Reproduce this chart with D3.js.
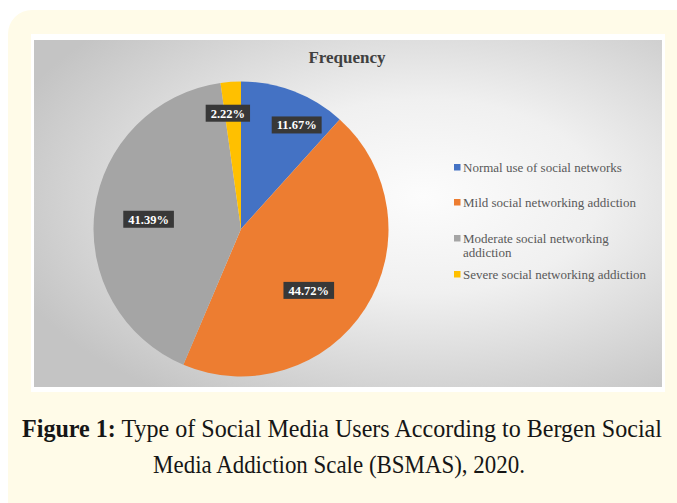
<!DOCTYPE html>
<html><head><meta charset="utf-8">
<script src="https://cdn.jsdelivr.net/npm/d3@7"></script>
<style>
html,body{margin:0;padding:0;background:#fff;}
svg{display:block;}
</style></head>
<body>
<svg id="c" width="677" height="503"></svg>
<script>
const categories = ["Normal use of social networks","Mild social networking addiction","Moderate social networking addiction","Severe social networking addiction"];
const values = [11.67, 44.72, 41.39, 2.22];
const labels = ["11.67%","44.72%","41.39%","2.22%"];
const colors = ["#4472c4","#ed7d31","#a5a5a5","#ffc000"];
const legendLines = [["Normal use of social networks"],["Mild social networking addiction"],["Moderate social networking","addiction"],["Severe social networking addiction"]];
const chartTitle = "Frequency";
const captionBold = "Figure 1:";
const captionRest1 = " Type of Social Media Users According to Bergen Social";
const captionLine2 = "Media Addiction Scale (BSMAS), 2020.";

// label placement (fraction of radius, fraction of slice angle)
const labelRadius = [0.80, 0.62, 0.63, 0.79];
const labelT = [0.67, 0.56, 0.49, 0.19];

const svg = d3.select("#c");
const defs = svg.append("defs");
const rg = defs.append("radialGradient").attr("id","bg").attr("cx","0.62").attr("cy","0.45").attr("r","0.7");
rg.append("stop").attr("offset","0").attr("stop-color","#fcfcfc");
rg.append("stop").attr("offset","0.4").attr("stop-color","#f0f0f0");
rg.append("stop").attr("offset","1").attr("stop-color","#c4c4c4");

const serif = "'Liberation Serif','Times New Roman',serif";

// card
svg.append("rect").attr("x",8).attr("y",10).attr("width",700).attr("height",520).attr("rx",24).attr("fill","#fffbe8");
// white frame + plot background
svg.append("rect").attr("x",31).attr("y",34).attr("width",634).attr("height",358).attr("fill","#ffffff");
svg.append("rect").attr("x",34).attr("y",40).attr("width",628).attr("height",347).attr("fill","url(#bg)");

svg.append("text").attr("x",347).attr("y",63).attr("text-anchor","middle")
  .attr("font-family",serif).attr("font-weight","bold")
  .attr("font-size",17).attr("fill","#404040").text(chartTitle);

const cx = 241, cy = 229, r = 147.5;
const pie = d3.pie().sort(null).value(d=>d)(values);
const arc = d3.arc().innerRadius(0).outerRadius(r);
const g = svg.append("g").attr("transform",`translate(${cx},${cy})`);
g.selectAll("path").data(pie).join("path").attr("d",arc).attr("fill",(d,i)=>colors[i]);

const lg = g.selectAll("g.lab").data(pie).join("g").attr("class","lab")
  .attr("transform",(d,i)=>{
    const a = d.startAngle + (d.endAngle-d.startAngle)*labelT[i];
    const rr = r*labelRadius[i];
    return `translate(${rr*Math.sin(a)},${-rr*Math.cos(a)})`;
  });
lg.append("rect").attr("fill","#383838");
lg.append("text").attr("text-anchor","middle").attr("y",4.5)
  .attr("font-family",serif).attr("font-weight","bold")
  .attr("font-size",12.5).attr("fill","#ffffff").text((d,i)=>labels[i]);
lg.each(function(){
  const t = d3.select(this).select("text").node().getBBox();
  d3.select(this).select("rect").attr("x",-t.width/2-5).attr("width",t.width+10).attr("y",-8.5).attr("height",17);
});

// legend
const legY = [172, 207, 243, 279];
const leg = svg.append("g");
categories.forEach((c,i)=>{
  leg.append("rect").attr("x",454).attr("y",legY[i]-8).attr("width",6.5).attr("height",6.5).attr("fill",colors[i]);
  const t = leg.append("text").attr("x",463).attr("y",legY[i])
    .attr("font-family",serif).attr("font-size",13).attr("fill","#595959");
  legendLines[i].forEach((ln,j)=>{
    t.append("tspan").attr("x",463).attr("dy",j===0?0:14).text(ln);
  });
});

// caption (condensed horizontally to fit like the reference)
function captionLine(y, centerX, targetW, build){
  const gg = svg.append("g");
  const t = gg.append("text").attr("x",0).attr("y",0).attr("text-anchor","middle")
    .attr("font-family",serif).attr("font-size",26).attr("fill","#161616");
  build(t);
  const w = t.node().getComputedTextLength();
  gg.attr("transform",`translate(${centerX},${y}) scale(${targetW/w},1)`);
}
captionLine(437, 342, 640, t=>{
  t.append("tspan").attr("font-weight","bold").text(captionBold);
  t.append("tspan").text(captionRest1);
});
captionLine(473, 339, 372, t=>t.text(captionLine2));
</script>
</body></html>
